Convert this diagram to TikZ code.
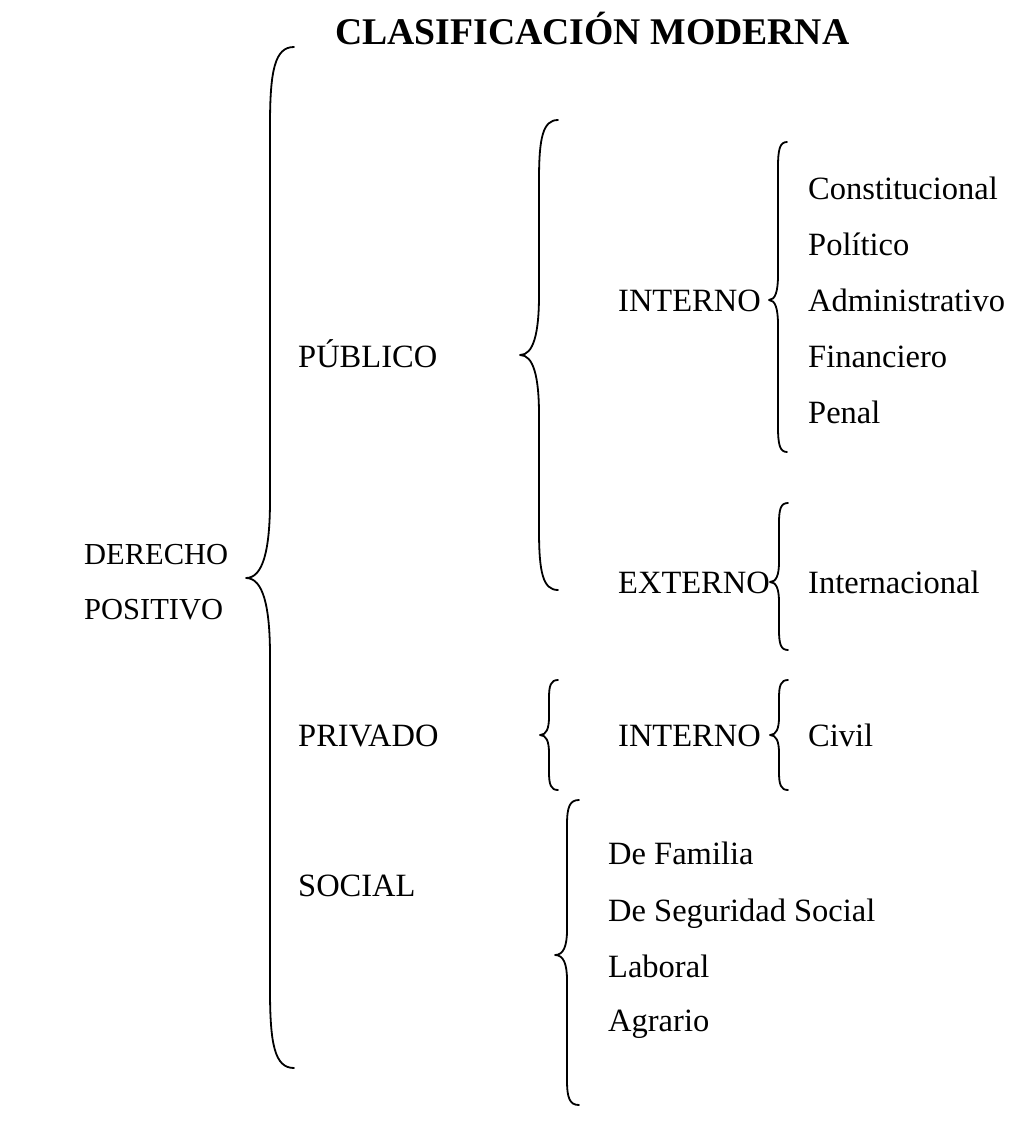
\documentclass[tikz,border=0pt]{standalone}
\usepackage{fontspec}
\setmainfont{Liberation Serif}
\newcommand\mybrace[6]{% xs, ytop, ytip, ybot, w, h
  \draw[bracestyle] ({#1+#5},#2) .. controls ({#1+0.2*#5},#2) and (#1,{#2+0.3*#6}) .. (#1,{#2+#6})
    -- (#1,{#3-#6}) .. controls (#1,{#3-0.35*#6}) and ({#1-0.3*#5},#3) .. ({#1-#5},#3)
    .. controls ({#1-0.3*#5},#3) and (#1,{#3+0.35*#6}) .. (#1,{#3+#6})
    -- (#1,{#4-#6}) .. controls (#1,{#4-0.3*#6}) and ({#1+0.2*#5},#4) .. ({#1+#5},#4);}
\begin{document}
\begin{tikzpicture}[x=1pt,y=-1pt,
  bracestyle/.style={line width=1.8pt, line cap=round, line join=round},
  lbl/.style={anchor=base west, inner sep=0pt, font=\fontsize{32.5}{40}\selectfont},
  lblroot/.style={anchor=base west, inner sep=0pt, font=\fontsize{30.5}{38}\selectfont},
  ttl/.style={anchor=base west, inner sep=0pt, font=\fontsize{37.7}{44}\selectfont\bfseries}]
\useasboundingbox[fill=white] (0,0) rectangle (1013,1126);
\node[ttl] (title) at (335,45) {CLASIFICACIÓN MODERNA};
% braces
\mybrace{270}{47}{578}{1068}{24}{78}
\mybrace{539}{120}{355}{590}{19}{60}
\mybrace{778}{142}{300}{452}{9}{25}
\mybrace{779}{503}{582}{650}{9}{20}
\mybrace{549}{680}{735}{790}{9}{18}
\mybrace{779}{680}{735}{790}{9}{18}
\mybrace{567}{800}{955}{1105}{12}{25}
% labels
\node[lblroot] (der) at (84,564) {DERECHO};
\node[lblroot] (pos) at (84,619) {POSITIVO};
\node[lbl] (pub) at (298,367) {PÚBLICO};
\node[lbl] (priv) at (298,746) {PRIVADO};
\node[lbl] (soc) at (298,896) {SOCIAL};
\node[lbl] (intpub) at (618,311) {INTERNO};
\node[lbl] (ext) at (618,593) {EXTERNO};
\node[lbl] (intpriv) at (618,746) {INTERNO};
\node[lbl] (c1) at (808,199) {Constitucional};
\node[lbl] (c2) at (808,255) {Político};
\node[lbl] (c3) at (808,311) {Administrativo};
\node[lbl] (c4) at (808,367) {Financiero};
\node[lbl] (c5) at (808,423) {Penal};
\node[lbl] (inter) at (808,593) {Internacional};
\node[lbl] (civil) at (808,746) {Civil};
\node[lbl] (s1) at (608,864) {De Familia};
\node[lbl] (s2) at (608,921) {De Seguridad Social};
\node[lbl] (s3) at (608,977) {Laboral};
\node[lbl] (s4) at (608,1031) {Agrario};
\end{tikzpicture}
\end{document}
